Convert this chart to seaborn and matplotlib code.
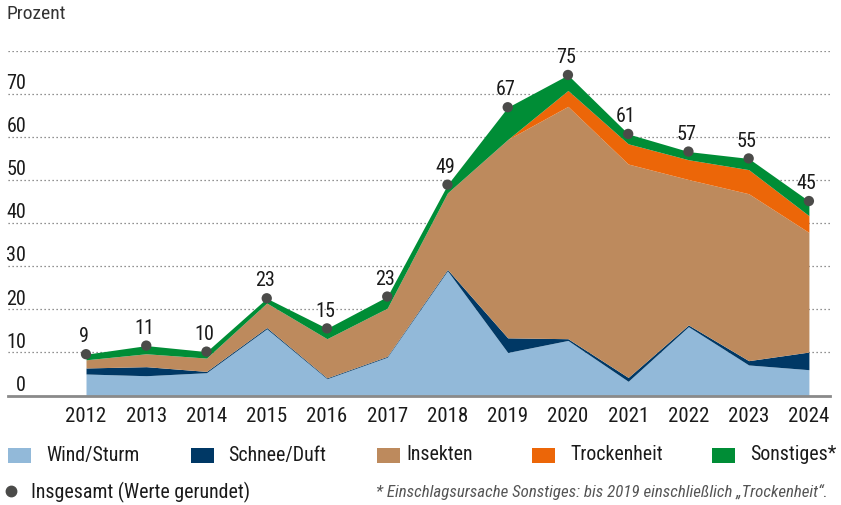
import matplotlib
matplotlib.use("Agg")
import matplotlib.pyplot as plt
import matplotlib.transforms as mtransforms
from matplotlib import font_manager
from matplotlib.patches import Rectangle
from matplotlib.lines import Line2D
import seaborn as sns
import pandas as pd

# ==================== Daten ====================
years = [2012, 2013, 2014, 2015, 2016, 2017, 2018, 2019, 2020, 2021, 2022, 2023, 2024]
wind = [5.0, 4.6, 5.3, 15.5, 3.9, 8.9, 29.0, 10.0, 12.8, 3.3, 16.0, 7.1, 6.0]
schnee = [1.4, 2.1, 0.3, 0.3, 0.2, 0.2, 0.3, 3.4, 0.4, 0.9, 0.4, 1.0, 4.1]
insekten = [1.9, 3.0, 3.1, 5.7, 9.1, 11.2, 17.8, 46.1, 54.0, 49.6, 33.8, 38.8, 27.8]
trockenheit = [0, 0, 0, 0, 0, 0, 0, 0, 3.7, 4.7, 4.6, 5.6, 3.9]
sonstiges = [1.3, 1.9, 1.5, 1.1, 2.4, 2.7, 1.9, 7.5, 3.6, 2.3, 1.9, 2.6, 3.4]
gesamt_labels = [9, 11, 10, 23, 15, 23, 49, 67, 75, 61, 57, 55, 45]

serien = ["Wind/Sturm", "Schnee/Duft", "Insekten", "Trockenheit", "Sonstiges*"]
farben = ["#92b9d9", "#003865", "#bd8a5d", "#ec6608", "#008d36"]
y_ticks = [0, 10, 20, 30, 40, 50, 60, 70]

df = pd.DataFrame({"Jahr": years, "Wind": wind, "Schnee": schnee, "Insekten": insekten,
                   "Trockenheit": trockenheit, "Sonstiges": sonstiges})
df["Gesamt"] = df[["Wind", "Schnee", "Insekten", "Trockenheit", "Sonstiges"]].sum(axis=1)

# ==================== Stil ====================
sns.set_theme(style="white")

# schmale Schrift suchen, sonst Roboto
vorhanden = {(f.name, f.stretch) for f in font_manager.fontManager.ttflist}
namen = {f.name for f in font_manager.fontManager.ttflist}
schrift, stretch, scale = "DejaVu Sans", "normal", 0.8
for kand in ["Liberation Sans Narrow", "Roboto Condensed", "Open Sans Condensed", "Noto Sans Condensed"]:
    if kand in namen:
        schrift, stretch, scale = kand, "normal", 1.0
        break
else:
    if ("DejaVu Sans", "condensed") in vorhanden or ("DejaVu Sans", "semi-condensed") in vorhanden:
        schrift, stretch, scale = "DejaVu Sans", "condensed", 0.9
    elif "Roboto" in namen:
        schrift, stretch, scale = "Roboto", "normal", 0.88
plt.rcParams["font.family"] = [schrift, "DejaVu Sans"]
plt.rcParams["font.stretch"] = stretch
TXT = "#1a1a1a"


def fs(p):
    return p * scale


W, H = 841, 505
fig = plt.figure(figsize=(W / 100, H / 100), dpi=100)
# Achse in Pixeln: x 8..830, y 51..395.5
ax = fig.add_axes([8 / W, (H - 395.5) / H, 822 / W, (395.5 - 51.3) / H])

ax.stackplot(df["Jahr"], df["Wind"], df["Schnee"], df["Insekten"], df["Trockenheit"],
             df["Sonstiges"], colors=farben, linewidth=0, zorder=2)

# Gesamtpunkte
sns.scatterplot(x=df["Jahr"], y=df["Gesamt"], color="#4b4b49", s=55, edgecolor="none",
                ax=ax, zorder=4, legend=False)
for x, y, lab in zip(df["Jahr"], df["Gesamt"], gesamt_labels):
    ax.annotate(str(lab), (x, y), xytext=(-1.5, 8.5), textcoords="offset points",
                ha="center", va="baseline", fontsize=fs(14.5), color=TXT, zorder=5)

ax.set_xlim(2010.705, 2024.35)
ax.set_ylim(0, 80)

# Gitter (gepunktet)
for v in y_ticks[1:] + [80]:
    ax.axhline(v, color="#6e6e6e", lw=0.9, ls=(0, (1, 2.2)), zorder=1)

# Y-Beschriftung ueber den Linien
trans = mtransforms.blended_transform_factory(ax.transAxes, ax.transData)
for v in y_ticks:
    ax.text(18 / 822, v + 1.15, str(v), transform=trans, ha="right", va="baseline",
            fontsize=fs(14.5), color=TXT)

ax.set_xticks(years)
ax.set_xticklabels([str(j) for j in years], fontsize=fs(15), color=TXT)
ax.tick_params(axis="x", length=0, pad=8)
ax.set_yticks([])
ax.set_xlabel("")
ax.set_ylabel("")
for s in ["top", "left", "right"]:
    ax.spines[s].set_visible(False)
ax.spines["bottom"].set_color("#8a8a8a")
ax.spines["bottom"].set_linewidth(2)
ax.spines["bottom"].set_zorder(3)

fig.text(7 / W, 1 - 14 / H, "Prozent", fontsize=fs(14), color="#333333", ha="left", va="center")

# ==================== Legende ====================
box_x = [8, 191, 377, 532, 712]
lab_x = [46, 228, 406, 570, 750]
for bx, lx, name, col in zip(box_x, lab_x, serien, farben):
    fig.add_artist(Rectangle((bx / W, 1 - 462.5 / H), 23 / W, 15 / H,
                             transform=fig.transFigure, color=col, lw=0))
    fig.text(lx / W, 1 - 455 / H, name, fontsize=fs(14.3), color=TXT, ha="left", va="center")

fig.add_artist(Line2D([11 / W], [1 - 491 / H], marker="o", markersize=7.5, color="#4b4b49",
                      transform=fig.transFigure, lw=0))
fig.text(31 / W, 1 - 492 / H, "Insgesamt (Werte gerundet)", fontsize=fs(14.3), color=TXT,
         ha="left", va="center")
fig.text(828 / W, 1 - 492 / H,
         "* Einschlagsursache Sonstiges: bis 2019 einschließlich \u201eTrockenheit\u201c.",
         fontsize=fs(12.2), style="italic", color="#555555", ha="right", va="center")

fig.savefig("out.png", dpi=100)
